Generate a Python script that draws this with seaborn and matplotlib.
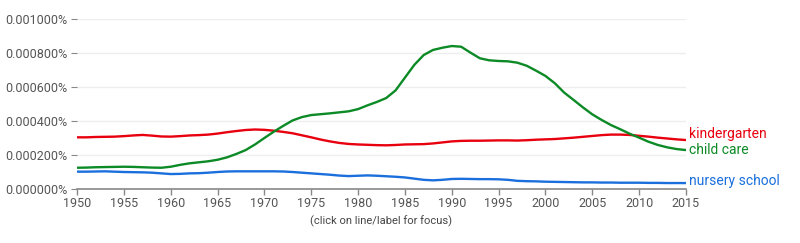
import numpy as np
import pandas as pd
import matplotlib
matplotlib.use("Agg")
import matplotlib.pyplot as plt
import seaborn as sns

# Yearly values, in units of 1e-6 %
years = list(range(1950, 2016))

kindergarten = [304, 304, 306, 307, 308, 311, 315, 318, 314, 309,
                308, 311, 315, 317, 320, 326, 334, 341, 347, 350,
                348, 343, 336, 328, 316, 304, 291, 280, 271, 265,
                262, 260, 258, 257, 259, 262, 263, 264, 268, 274,
                280, 283, 284, 284, 285, 286, 286, 285, 287, 290,
                292, 294, 298, 302, 307, 312, 317, 320, 320, 318,
                313, 308, 302, 297, 292, 288]

child_care = [125, 126, 128, 129, 130, 131, 130, 128, 126, 125,
              131, 142, 151, 157, 163, 172, 186, 206, 229, 262,
              300, 337, 371, 403, 423, 435, 440, 445, 451, 457,
              470, 492, 512, 535, 580, 655, 730, 788, 818, 831,
              841, 837, 802, 769, 757, 753, 751, 743, 725, 696,
              665, 622, 567, 524, 480, 439, 406, 376, 351, 325,
              302, 278, 259, 245, 235, 229]

nursery_school = [102, 102, 103, 104, 102, 100, 99, 98, 96, 92,
                  88, 89, 92, 93, 96, 100, 103, 104, 104, 104,
                  104, 104, 103, 100, 96, 92, 88, 84, 79, 76,
                  78, 80, 78, 75, 72, 68, 61, 54, 51, 54,
                  59, 60, 59, 58, 58, 57, 54, 48, 46, 45,
                  43, 42, 41, 40, 39, 39, 38, 38, 37, 37,
                  37, 36, 36, 35, 35, 35]

series_names = ["kindergarten", "child care", "nursery school"]
colors = {"kindergarten": "#e8000e", "child care": "#0c8a26", "nursery school": "#1a6fdc"}
label_offsets = {"kindergarten": 4, "child care": 0, "nursery school": 1.5}

x_ticks = list(range(1950, 2016, 5))
y_ticks = [0, 0.0002, 0.0004, 0.0006, 0.0008, 0.001]

# Build long-form frame for seaborn
df = pd.DataFrame({
    "year": years * 3,
    "value": np.array(kindergarten + child_care + nursery_school) * 1e-6,
    "term": sum([[n] * len(years) for n in series_names], []),
})

sns.set_style("white")
plt.rcParams["font.family"] = ["Roboto", "DejaVu Sans"]

fig = plt.figure(figsize=(8, 2.43), dpi=100)
ax = fig.add_axes([0.09625, 0.2222, 0.76125, 0.6996])

sns.lineplot(data=df, x="year", y="value", hue="term", palette=colors,
             hue_order=series_names, linewidth=1.7, legend=False, ax=ax)

# Series labels at the right end of each line
for name in series_names:
    last = df[df["term"] == name].iloc[-1]
    ax.annotate(name, xy=(last["year"], last["value"]), xytext=(2.5, label_offsets[name]),
                textcoords="offset points", va="center", ha="left",
                color=colors[name], fontsize=10, annotation_clip=False)

ax.set_xlim(1950, 2015)
ax.set_ylim(0, 0.001)
ax.set_xticks(x_ticks)
ax.set_yticks(y_ticks)
ax.set_yticklabels([f"{v:.6f}%" for v in y_ticks])
ax.set_xlabel("")
ax.set_ylabel("")

ax.grid(axis="y", color="#eeeeee", linewidth=1)
ax.set_axisbelow(True)
for side in ["top", "right", "left"]:
    ax.spines[side].set_visible(False)
ax.spines["bottom"].set_color("#888888")
ax.spines["bottom"].set_linewidth(1.2)

ax.tick_params(axis="x", direction="out", length=4, width=1, color="#888888",
               labelsize=9, labelcolor="#555555", pad=2, bottom=True)
ax.tick_params(axis="y", direction="out", length=4, width=0.8, color="#888888",
               labelsize=9, labelcolor="#555555", pad=3, left=True)

fig.text(0.476, 0.088, "(click on line/label for focus)", ha="center", va="center",
         fontsize=8, color="#444444")

plt.savefig("out.png", dpi=100)
